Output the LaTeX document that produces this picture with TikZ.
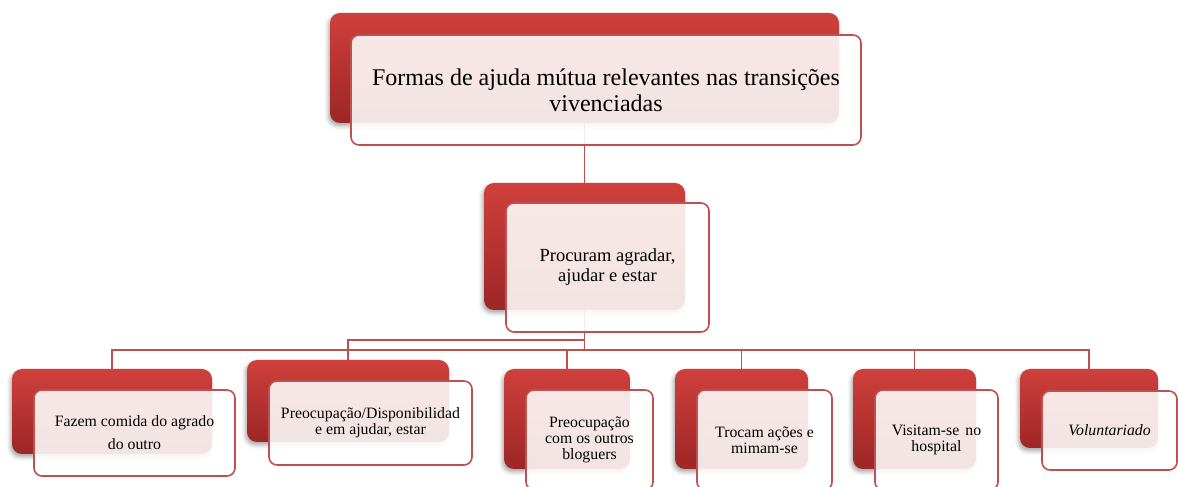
\documentclass[tikz,border=0pt]{standalone}
\usepackage{fontspec}
\setmainfont{Liberation Serif}
\usetikzlibrary{shadows.blur,calc}
\definecolor{redtop}{RGB}{207,64,60}
\definecolor{redbot}{RGB}{156,38,38}
\definecolor{lineC}{RGB}{192,80,77}
\tikzset{
  redbox/.style={rectangle, rounded corners=10pt, inner sep=0pt,
    top color=redtop, middle color=redtop, bottom color=redbot,
    blur shadow={shadow xshift=-1.5pt, shadow yshift=-3pt, shadow blur radius=4pt, shadow opacity=35}},
  whitebox/.style={rectangle, rounded corners=8pt, inner sep=0pt, draw=lineC, line width=1.6pt,
    fill=white, fill opacity=0.88, text opacity=1, align=center, text=black},
  conn/.style={draw=lineC, line width=1.9pt},
  fbig/.style={font=\fontsize{24}{26}\selectfont},
  fmid/.style={font=\fontsize{18.5}{20}\selectfont},
  fsmall/.style={font=\fontsize{15.8}{16}\selectfont},
  fsmallw/.style={font=\fontsize{15.8}{23}\selectfont},
}
\begin{document}
\begin{tikzpicture}[x=1pt,y=1pt]
\useasboundingbox (0,0) rectangle (1178,487);
\clip (0,0) rectangle (1178,487);
% red back boxes (centres: x, 487-y)
\node[redbox, minimum width=509pt, minimum height=110pt] (rt) at (584.5,419) {};
\node[redbox, minimum width=201pt, minimum height=127pt] (rm) at (584.5,240.5) {};
\node[redbox, minimum width=200pt, minimum height=85pt] (r1) at (112,75.5) {};
\node[redbox, minimum width=202pt, minimum height=82pt] (r2) at (348,86) {};
\node[redbox, minimum width=126pt, minimum height=100pt] (r3) at (567,68) {};
\node[redbox, minimum width=133pt, minimum height=100pt] (r4) at (741.5,68) {};
\node[redbox, minimum width=123pt, minimum height=100pt] (r5) at (914.5,68) {};
\node[redbox, minimum width=138pt, minimum height=79pt] (r6) at (1089,78.5) {};
% connectors
\coordinate (bus) at (0,137);
\coordinate (bustwo) at (0,147);
\draw[conn] (rt.south) -- (rm.north);
\draw[conn] (rm.south) -- (rm.south |- bus);
\draw[conn] (rm.south |- bus) -| (r1.north);
\draw[conn] (rm.south |- bus) -| (r3.north);
\draw[conn] (rm.south |- bus) -| (r4.north);
\draw[conn] (rm.south |- bus) -| (r5.north);
\draw[conn] (rm.south |- bus) -| (r6.north);
\draw[conn] (rm.south |- bustwo) -| (r2.north);
% white front boxes with text
\node[whitebox, fbig, minimum width=510pt, minimum height=110pt] (wt) at (606,397)
  {Formas de ajuda mútua relevantes nas transições\\vivenciadas};
\node[whitebox, fmid, minimum width=203pt, minimum height=129pt] (wm) at (607.5,219.5)
  {Procuram agradar,\\ajudar e estar};
\node[whitebox, fsmallw, minimum width=201pt, minimum height=86pt] (w1) at (134.5,54)
  {Fazem comida do agrado\\do outro};
\node[whitebox, fsmall, minimum width=203pt, minimum height=84pt] (w2) at (370.5,64)
  {Preocupação/Disponibilidad\\e em ajudar, estar};
\node[whitebox, fsmall, minimum width=127pt, minimum height=100pt] (w3) at (589.5,47)
  {Preocupação\\com os outros\\bloguers};
\node[whitebox, fsmall, minimum width=135pt, minimum height=100pt] (w4) at (764.5,47)
  {Trocam ações e\\mimam-se};
\node[whitebox, fsmall, minimum width=123pt, minimum height=100pt] (w5) at (936.5,47)
  {Visitam-se\hspace{6pt}no\\hospital};
\node[whitebox, fsmall, minimum width=135pt, minimum height=79pt] (w6) at (1109.5,56.5)
  {\textit{Voluntariado}};
\end{tikzpicture}
\end{document}
